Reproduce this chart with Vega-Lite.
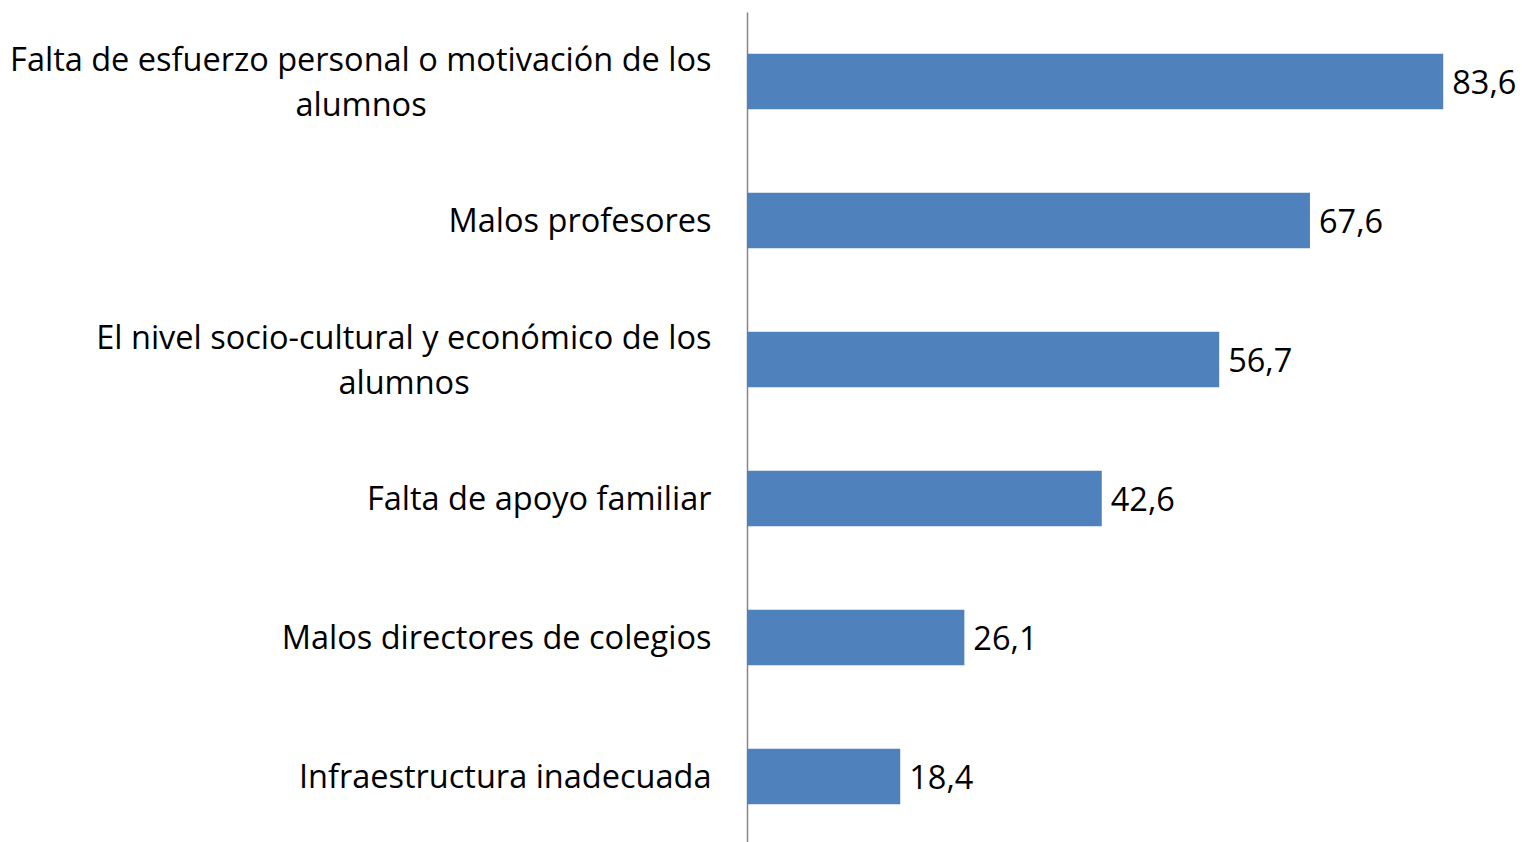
{
  "$schema": "https://vega.github.io/schema/vega-lite/v6.json",
  "autosize": {"type": "none"},
  "padding": {"left": 747, "top": 12, "right": 0, "bottom": 0},
  "width": 777,
  "height": 834,
  "background": "white",
  "config": {
    "view": {"stroke": null},
    "locale": {"number": {"decimal": ",", "thousands": ".", "grouping": [3], "currency": ["", " €"]}}
  },
  "data": {
    "values": [
      {"motivo": "Falta de esfuerzo personal o motivación de los alumnos", "valor": 83.6},
      {"motivo": "Malos profesores", "valor": 67.6},
      {"motivo": "El nivel socio-cultural y económico de los alumnos", "valor": 56.7},
      {"motivo": "Falta de apoyo familiar", "valor": 42.6},
      {"motivo": "Malos directores de colegios", "valor": 26.1},
      {"motivo": "Infraestructura inadecuada", "valor": 18.4}
    ]
  },
  "encoding": {
    "y": {
      "field": "motivo",
      "type": "nominal",
      "sort": null,
      "scale": {"paddingInner": 0.6, "paddingOuter": 0.3},
      "axis": {
        "title": null,
        "ticks": false,
        "domainColor": "#868686",
        "domainWidth": 1.5,
        "labelPadding": 36,
        "labelFont": "Open Sans",
        "labelFontSize": 32.5,
        "labelColor": "#000000",
        "labelLimit": 1000,
        "labelAlign": "right",
        "labelOffset": {"condition": {"test": "indexof(datum.value, 'alumnos') > 0", "value": -21}, "value": 1.5},
        "labelExpr": "datum.value == 'Falta de esfuerzo personal o motivación de los alumnos' ? 'Falta de esfuerzo personal o motivación de los' : datum.value == 'El nivel socio-cultural y económico de los alumnos' ? 'El nivel socio-cultural y económico de los' : datum.value"
      }
    },
    "x": {
      "field": "valor",
      "type": "quantitative",
      "scale": {"domain": [0, 93.3], "nice": false},
      "axis": null
    }
  },
  "layer": [
    {"mark": {"type": "bar", "color": "#4F81BD"}},
    {
      "mark": {"type": "text", "align": "left", "baseline": "middle", "dx": 9, "dy": 2, "font": "Open Sans", "fontSize": 32.5, "color": "#000000"},
      "encoding": {"text": {"field": "valor", "type": "quantitative", "format": ".1f"}}
    },
    {
      "transform": [{"filter": "indexof(datum.motivo, 'esfuerzo') >= 0"}],
      "mark": {"type": "text", "align": "center", "baseline": "middle", "dx": -386, "dy": 24, "font": "Open Sans", "fontSize": 32.5, "color": "#000000"},
      "encoding": {"x": {"datum": 0, "type": "quantitative"}, "text": {"value": "alumnos"}}
    },
    {
      "transform": [{"filter": "indexof(datum.motivo, 'socio') >= 0"}],
      "mark": {"type": "text", "align": "center", "baseline": "middle", "dx": -343, "dy": 24, "font": "Open Sans", "fontSize": 32.5, "color": "#000000"},
      "encoding": {"x": {"datum": 0, "type": "quantitative"}, "text": {"value": "alumnos"}}
    }
  ]
}
